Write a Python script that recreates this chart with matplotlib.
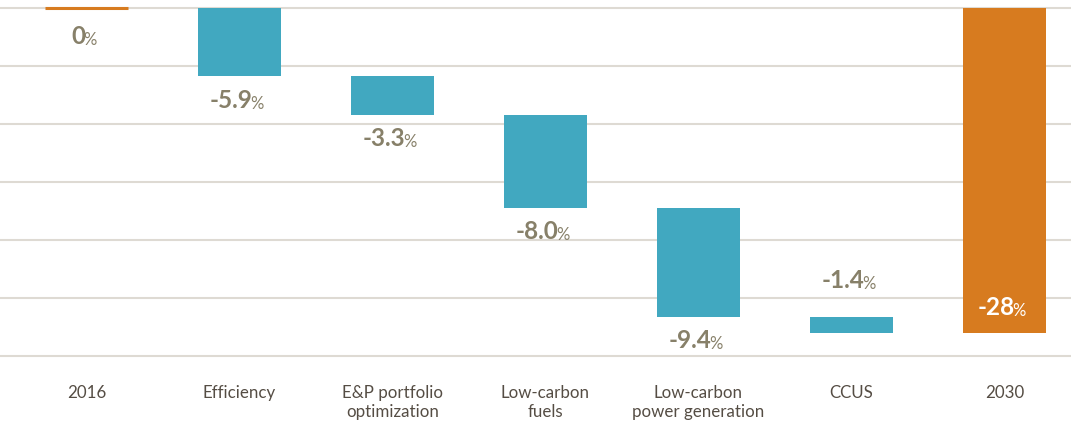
import numpy as np
import matplotlib.pyplot as plt

# values (percent change vs 2016)
categories = ["2016", "Efficiency", "E&P portfolio\noptimization", "Low-carbon\nfuels",
              "Low-carbon\npower generation", "CCUS", "2030"]
steps = [-5.9, -3.3, -8.0, -9.4, -1.4]
start_value = 0
end_value = -28
value_labels = ["0", "-5.9", "-3.3", "-8.0", "-9.4", "-1.4", "-28"]

TEAL = "#41a8c0"
ORANGE = "#d77b1f"
VAL_COLOR = "#878069"
CAT_COLOR = "#554d44"
GRID = "#dedad3"

plt.rcParams['font.family'] = ['Lato', 'DejaVu Sans']

fig = plt.figure(figsize=(10.71, 4.23), dpi=100)
ax = fig.add_axes([0, (423 - 356) / 423, 1, 356 / 423])

x = np.arange(len(categories))
width = 0.54

# waterfall pieces
tops = np.concatenate([[start_value], start_value + np.cumsum(steps)[:-1]])
bottoms = start_value + np.cumsum(steps)
ax.bar(x[1:-1], bottoms - tops, bottom=tops, width=width, color=TEAL, zorder=3)
ax.bar(x[-1], end_value, bottom=0, width=width, color=ORANGE, zorder=3)
ax.hlines(start_value, x[0] - width / 2, x[0] + width / 2, color=ORANGE, lw=2.2, zorder=3)

ax.set_xlim(-0.565, 6.435)
ax.set_ylim(-30, 0.69)
for g in range(0, -35, -5):
    ax.axhline(g, color=GRID, lw=1.5, zorder=1, clip_on=False)

for s in ax.spines.values():
    s.set_visible(False)
ax.set_xticks([])
ax.set_yticks([])


def value_label(xc, yv, text, dy, color=VAL_COLOR, va='top'):
    t = ax.annotate(text, (xc, yv), xytext=(-6, dy), textcoords='offset points',
                    ha='center', va=va, fontsize=17.5, fontweight='bold', color=color, zorder=4)
    ax.annotate("%", (1, 0), xycoords=t, xytext=(-1.5, 0), textcoords='offset points',
                ha='left', va='bottom', fontsize=12, color=color, zorder=4)


value_label(x[0], start_value, value_labels[0], -12)
for i in range(1, 5):
    value_label(x[i], bottoms[i - 1], value_labels[i], -9)
value_label(x[5], tops[4], value_labels[5], 18, va='bottom')
value_label(x[6], end_value, value_labels[6], 10, color="white", va='bottom')

for xi, lab in zip(x, categories):
    ax.annotate(lab, (xi, -30), xytext=(0, -21), textcoords='offset points',
                ha='center', va='top', fontsize=12.2, color=CAT_COLOR,
                linespacing=1.25, annotation_clip=False)

fig.savefig("out.png", dpi=100)
